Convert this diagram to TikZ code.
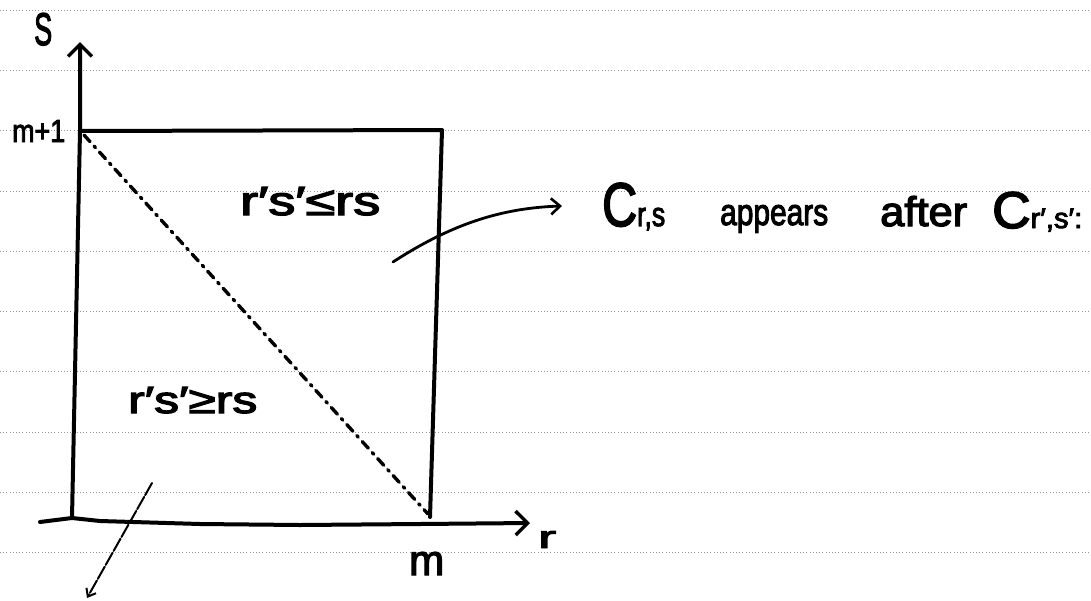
\documentclass[tikz,border=0pt]{standalone}
\usepackage{fontspec}
\setmainfont{Liberation Sans}
\newfontfamily\hand{Liberation Sans}[FakeBold=3]
\usetikzlibrary{arrows.meta}
\tikzset{
  ruled/.style={black!40, line width=0.8pt, dash pattern=on 0.8pt off 2.4pt},
  pen/.style={line width=4pt, line cap=round, line join=round, black},
  thinpen/.style={line width=2.8pt, line cap=round, line join=round, black},
  diagdash/.style={line width=3.4pt, line cap=round, dash pattern=on 9pt off 6pt on 2pt off 6pt},
  lbl/.style={inner sep=0pt, anchor=base west, font=\hand},
  barb/.style={-{Straight Barb[length=12pt,width=24pt,line width=3.4pt]}},
  smallbarb/.style={-{Straight Barb[length=9pt,width=16pt,line width=2.6pt]}},
  tinybarb/.style={-{Straight Barb[length=7pt,width=11pt,line width=2pt]}}
}
\begin{document}
\begin{tikzpicture}[x=1pt,y=-1pt]
\useasboundingbox (0,0) rectangle (1091,600);
\fill[white] (0,0) rectangle (1091,600);
% ruled paper lines
\foreach \k in {0,...,9}{
  \draw[ruled] (0,{10+60.3*\k}) -- (1091,{10+60.3*\k});
}
% coordinates
\coordinate (xs) at (40,522);
\coordinate (O) at (72,518);
\coordinate (xe) at (530,523);
\coordinate (tl) at (80,131);
\coordinate (ytop) at (80,42);
\coordinate (tr) at (442,130);
\coordinate (br) at (430,517);
\coordinate (d1) at (84,135);
\coordinate (d2) at (428,514);
\coordinate (c1) at (393,262);
\coordinate (c2) at (562,206);
\coordinate (b1) at (152,483);
\coordinate (b2) at (87,598);
% axes
\draw[pen, barb] (O) -- (tl) -- (ytop);
\draw[pen, barb] (xs) -- (O) -- (100,521) -- (200,524) -- (300,525) -- (420,524) -- (xe);
% box
\draw[pen] (tl) -- (tr) -- (br);
% diagonal
\draw[diagdash] (d1) -- (d2);
% arrows
\draw[thinpen, smallbarb] (c1) .. controls (450,225) and (500,208) .. (c2);
\draw[line width=2pt, line cap=round, dash pattern=on 14pt off 2pt, tinybarb] (b1) -- (b2);
% labels
\node[lbl] (S) at (34,45) {\resizebox{18pt}{32pt}{S}};
\node[lbl] (mp1) at (12,142) {\resizebox{53pt}{22pt}{m+1}};
\node[lbl] (le) at (240,215) {\resizebox{140pt}{28pt}{r′s′≤rs}};
\node[lbl] (ge) at (128,413) {\resizebox{129pt}{26pt}{r′s′≥rs}};
\node[lbl] (m) at (409,575) {\resizebox{35pt}{23pt}{m}};
\node[lbl] (r) at (538,548) {\resizebox{18pt}{17pt}{r}};
\node[lbl] (t1) at (602,226) {\resizebox{63pt}{43pt}{C{\fontsize{5.5}{6}\selectfont r,s}}};
\node[lbl] (t2) at (720,225) {\resizebox{108pt}{20pt}{appears}};
\node[lbl] (t3) at (880,226) {\resizebox{87pt}{30pt}{after}};
\node[lbl] (t4) at (992,228) {\resizebox{90pt}{36pt}{C{\fontsize{5.5}{6}\selectfont r′,s′:}}};
\end{tikzpicture}
\end{document}
